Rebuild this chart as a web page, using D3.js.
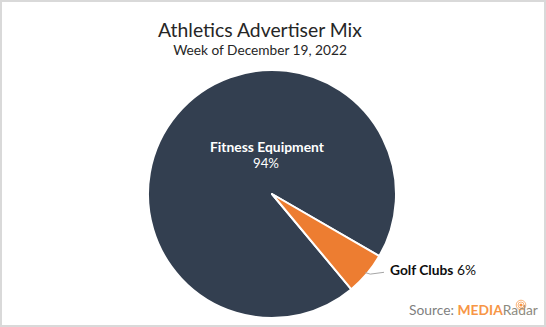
<!DOCTYPE html>
<html><head><meta charset="utf-8">
<script src="https://cdn.jsdelivr.net/npm/d3@7"></script>
<style>body{margin:0;background:#fff}svg{display:block}text{font-family:Lato,"Open Sans",sans-serif}</style>
</head><body>
<script>
const categories = ["Fitness Equipment", "Golf Clubs"];
const values = [94.4, 5.6];
const pctLabels = ["94%", "6%"];
const colors = ["#333F50", "#ED7D31"];
const title = "Athletics Advertiser Mix";
const subtitle = "Week of December 19, 2022";

const W = 546, H = 327;
const svg = d3.select("body").append("svg").attr("width", W).attr("height", H);
svg.append("rect").attr("x", 1).attr("y", 1).attr("width", W - 2).attr("height", H - 2)
  .attr("fill", "#fff").attr("stroke", "#d9d9d9").attr("stroke-width", 2);

function fit(sel, w) {
  const l = sel.node().getComputedTextLength();
  const fs = parseFloat(sel.attr("font-size"));
  sel.attr("font-size", fs * w / l);
}

fit(svg.append("text").attr("x", 260).attr("y", 37).attr("text-anchor", "middle")
  .attr("font-size", 19).attr("fill", "#262626").text(title), 204);
fit(svg.append("text").attr("x", 260).attr("y", 55).attr("text-anchor", "middle")
  .attr("font-size", 14).attr("fill", "#262626").text(subtitle), 174);

const cx = 272, cy = 194, r = 124;
const start = 140.2 * Math.PI / 180;
const pie = d3.pie().sort(null).startAngle(start).endAngle(start + 2 * Math.PI);
const arcs = pie(values);
const arc = d3.arc().innerRadius(0).outerRadius(r);
const g = svg.append("g").attr("transform", `translate(${cx},${cy})`);
g.selectAll("path").data(arcs).join("path")
  .attr("d", arc).attr("fill", (d, i) => colors[i])
  .attr("stroke", "#fff").attr("stroke-width", 2).attr("stroke-linejoin", "round");

// Fitness label inside
const t1 = svg.append("text").attr("x", 267).attr("y", 152).attr("text-anchor", "middle")
  .attr("font-size", 13).attr("font-weight", "bold").attr("fill", "#fff").text(categories[0]);
fit(t1, 114);
const t1b = svg.append("text").attr("x", 266).attr("y", 168).attr("text-anchor", "middle")
  .attr("font-size", 13).attr("fill", "#fff").text(pctLabels[0]);
fit(t1b, 26);

// Golf leader line + label
const a2 = arcs[1];
const mid = (a2.startAngle + a2.endAngle) / 2;
const p0 = [cx + Math.sin(mid) * (r - 2), cy - Math.cos(mid) * (r - 2)];
svg.append("path").attr("d", `M${p0[0]},${p0[1]} L${p0[0] + 5},${p0[1] + 1.5} L384,272.3`)
  .attr("fill", "none").attr("stroke", "#a6a6a6").attr("stroke-width", 1);
const t2 = svg.append("text").attr("x", 390).attr("y", 275).attr("font-size", 13).attr("fill", "#0d0d0d");
t2.append("tspan").attr("font-weight", "bold").text(categories[1]);
t2.append("tspan").text(" " + pctLabels[1]);
fit(t2, 86);

// Source
const s = svg.append("text").attr("x", 409).attr("y", 315).attr("font-size", 13);
s.append("tspan").attr("fill", "#7f7f7f").text("Source: ");
s.append("tspan").attr("fill", "#F79646").attr("font-weight", "bold").text("MEDIA");
s.append("tspan").attr("fill", "#8c8a7e").text("Radar");
fit(s, 129);
// radar icon
const ic = svg.append("g").attr("transform", "translate(521,305)");
ic.append("circle").attr("r", 1.6).attr("fill", "#F79646");
[3, 4.8].forEach(rr => ic.append("circle").attr("r", rr).attr("fill", "none")
  .attr("stroke", "#F79646").attr("stroke-width", 0.9).attr("opacity", 0.8));
</script>
</body></html>
